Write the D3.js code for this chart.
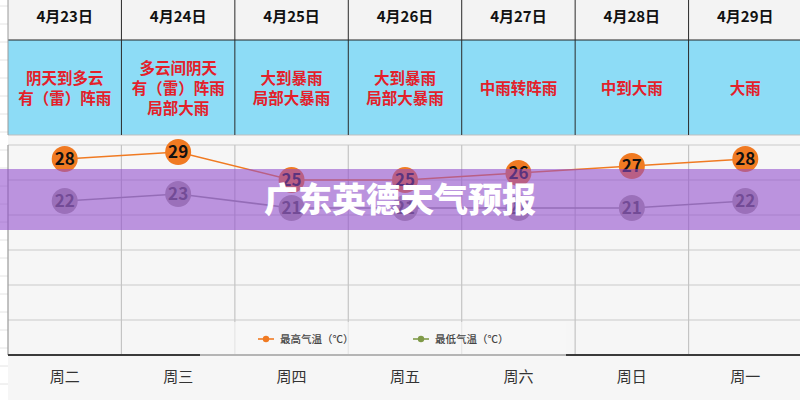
<!DOCTYPE html>
<html><head><meta charset="utf-8">
<script src="https://cdn.jsdelivr.net/npm/d3@7"></script>
<style>html,body{margin:0;padding:0;background:#fff;}svg{display:block;}</style>
</head><body>
<svg id="c" width="800" height="400"></svg>
<script>
const dates = ["4月23日","4月24日","4月25日","4月26日","4月27日","4月28日","4月29日"];
const weather = [
  ["阴天到多云","有（雷）阵雨"],
  ["多云间阴天","有（雷）阵雨","局部大雨"],
  ["大到暴雨","局部大暴雨"],
  ["大到暴雨","局部大暴雨"],
  ["中雨转阵雨"],
  ["中到大雨"],
  ["大雨"]
];
const weekdays = ["周二","周三","周四","周五","周六","周日","周一"];
const highTemps = [28,29,25,25,26,27,28];
const lowTemps = [22,23,21,21,21,21,22];
const yTicks = [0,5,10,15,20,25,30];
const legendLabels = ["最高气温（℃）","最低气温（℃）"];
const title = "广东英德天气预报";

const svg = d3.select("#c");
const F = "'Noto Sans CJK SC','Noto Sans',sans-serif";
const x = d3.scaleBand().domain(dates).range([8, 802]).padding(0);
const bw = x.bandwidth();
const cx = d => x(d) + bw/2;
const y = d3.scaleLinear().domain([0,30]).range([355,145]);

svg.append("rect").attr("x",0).attr("y",0).attr("width",800).attr("height",400).attr("fill","#ffffff");
svg.append("rect").attr("x",8).attr("y",0).attr("width",792).attr("height",400).attr("fill","#f6f6f6");
svg.append("g").selectAll("line").data(d3.range(0,400,18)).join("line")
  .attr("x1",0).attr("x2",8).attr("y1",d=>d+6).attr("y2",d=>d+6).attr("stroke","#e4e4e4");
svg.append("rect").attr("x",8).attr("y",0).attr("width",792).attr("height",40).attr("fill","#f3f3f3");
svg.append("rect").attr("x",8).attr("y",40).attr("width",792).attr("height",95).attr("fill","#8ddcf6");
svg.append("line").attr("x1",8).attr("x2",800).attr("y1",40).attr("y2",40).attr("stroke","#222").attr("stroke-width",1);
svg.append("line").attr("x1",8).attr("x2",800).attr("y1",135).attr("y2",135).attr("stroke","#bfbfbf").attr("stroke-width",1);
svg.append("g").selectAll("line").data(dates).join("line")
  .attr("x1",d=>x(d)).attr("x2",d=>x(d)).attr("y1",0).attr("y2",135)
  .attr("stroke",(d,i)=>i===0?"#9a9a9a":"#2a2a2a").attr("stroke-width",1);

svg.append("g").selectAll("text").data(dates).join("text")
  .attr("x",cx).attr("y",22).attr("text-anchor","middle")
  .attr("font-family",F).attr("font-weight","bold").attr("font-size",15).attr("fill","#111")
  .text(d=>d);

dates.forEach((d,i)=>{
  const lines = weather[i];
  const n = lines.length;
  const lh = 20;
  const y0 = 88 - (n-1)*lh/2;
  svg.append("g").selectAll("text").data(lines).join("text")
    .attr("x",cx(d)).attr("y",(t,j)=>y0 + j*lh + 5.5).attr("text-anchor","middle")
    .attr("font-family",F).attr("font-weight","bold").attr("font-size",15.5).attr("fill","#e4202a")
    .text(t=>t);
});

svg.append("g").selectAll("line").data(yTicks.filter(t=>t>0)).join("line")
  .attr("x1",8).attr("x2",800).attr("y1",d=>y(d)).attr("y2",d=>y(d))
  .attr("stroke","#c9c9c9").attr("stroke-width",1.2);
svg.append("g").selectAll("line").data(dates).join("line")
  .attr("x1",d=>x(d)).attr("x2",d=>x(d)).attr("y1",y(30)).attr("y2",y(0))
  .attr("stroke",(d,i)=>i===0?"#9a9a9a":"#c4c4c4").attr("stroke-width",1.2);
svg.append("line").attr("x1",8).attr("x2",800).attr("y1",y(0)).attr("y2",y(0))
  .attr("stroke","#3a3a3a").attr("stroke-width",2.2);

svg.append("rect").attr("x",200).attr("y",322).attr("width",366).attr("height",36)
  .attr("fill","#f8f8f8").attr("opacity",0.65);
const legendColors = ["#f07a22","#7f9a48"];
const legendX = [258, 413];
legendLabels.forEach((t,i)=>{
  const g = svg.append("g");
  g.append("line").attr("x1",legendX[i]).attr("x2",legendX[i]+16).attr("y1",339).attr("y2",339)
    .attr("stroke",legendColors[i]).attr("stroke-width",1.6);
  g.append("circle").attr("cx",legendX[i]+8).attr("cy",339).attr("r",3.2).attr("fill",legendColors[i]);
  g.append("text").attr("x",legendX[i]+22).attr("y",342.5)
    .attr("font-family",F).attr("font-weight","500").attr("font-size",10.5).attr("fill","#444").text(t);
});

svg.append("g").selectAll("text").data(weekdays).join("text")
  .attr("x",(d,i)=>cx(dates[i])).attr("y",382).attr("text-anchor","middle")
  .attr("font-family",F).attr("font-size",15).attr("fill","#333").text(d=>d);

const line = d3.line().x((d,i)=>cx(dates[i])).y(d=>y(d));
svg.append("path").datum(lowTemps).attr("d",line).attr("fill","none").attr("stroke","#9a9a9a").attr("stroke-width",1.6);
svg.append("path").datum(highTemps).attr("d",line).attr("fill","none").attr("stroke","#f07a22").attr("stroke-width",1.6);

const lowG = svg.append("g");
lowG.selectAll("circle").data(lowTemps).join("circle")
  .attr("cx",(d,i)=>cx(dates[i])).attr("cy",d=>y(d)).attr("r",13).attr("fill","#a9a3a0");
lowG.selectAll("text").data(lowTemps).join("text")
  .attr("x",(d,i)=>cx(dates[i])).attr("y",d=>y(d)+6).attr("text-anchor","middle")
  .attr("font-family",F).attr("font-weight","600").attr("font-size",17).attr("fill","#4a4a4a").text(d=>d);
const highG = svg.append("g");
highG.selectAll("circle").data(highTemps).join("circle")
  .attr("cx",(d,i)=>cx(dates[i])).attr("cy",d=>y(d)).attr("r",13).attr("fill","#f07a22");
highG.selectAll("text").data(highTemps).join("text")
  .attr("x",(d,i)=>cx(dates[i])).attr("y",d=>y(d)+6).attr("text-anchor","middle")
  .attr("font-family",F).attr("font-weight","bold").attr("font-size",17).attr("fill","#111").text(d=>d);

svg.append("rect").attr("x",0).attr("y",169).attr("width",800).attr("height",61)
  .attr("fill","rgb(145,75,205)").attr("opacity",0.58);
svg.append("text").attr("x",400).attr("y",212).attr("text-anchor","middle")
  .attr("font-family",F).attr("font-weight","900").attr("font-size",34).attr("fill","#fff")
  .text(title);
</script>
</body></html>
